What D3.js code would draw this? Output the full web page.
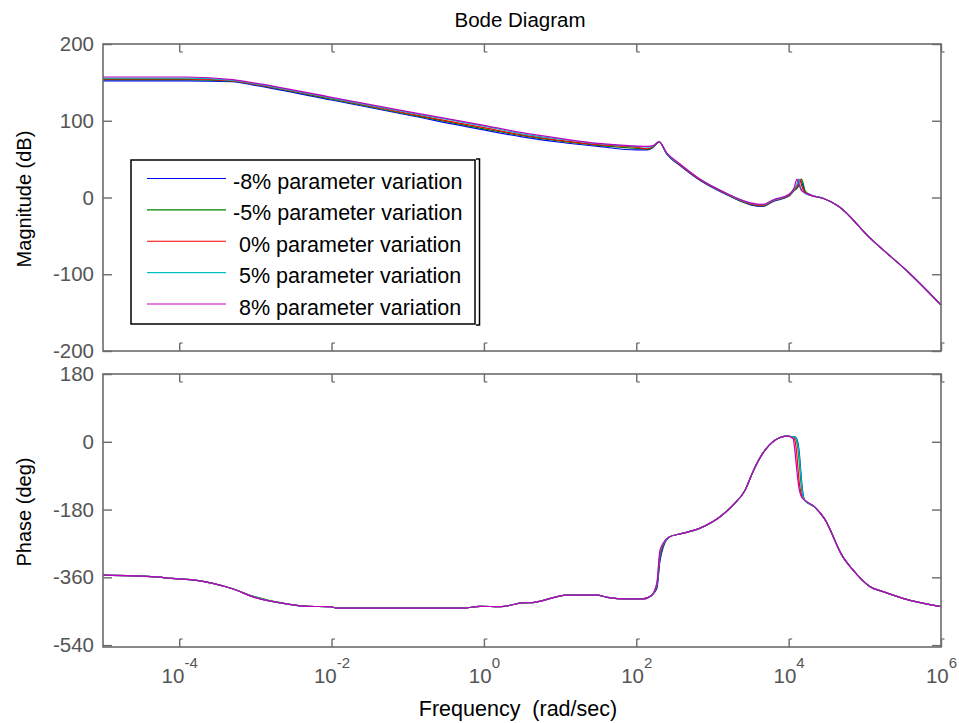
<!DOCTYPE html>
<html><head><meta charset="utf-8">
<script src="https://cdn.jsdelivr.net/npm/d3@7"></script>
<style>
html,body{margin:0;padding:0;background:#fff;}
svg{display:block;font-family:"Liberation Sans",Arial,sans-serif;}
</style></head><body>
<svg id="chart" width="959" height="723"></svg>
<script>
// ---------- DATA ----------
const seriesNames = ["-8% parameter variation", "-5% parameter variation", " 0% parameter variation", " 5% parameter variation", " 8% parameter variation"];
const seriesColors = ["#0000ff", "#008000", "#ff0000", "#00bfbf", "#bf00bf"];

// frequencies given as log10(rad/sec)
const magFreqExp = [-5, -3.9, -3.3, -3.0, -2.0, -1.0, 0, 0.5, 1.0, 1.5, 2.0, 2.15, 2.22, 2.30, 2.40, 2.57, 2.85, 3.15, 3.5, 3.66, 3.8, 4.0, 4.07, 4.11, 4.13, 4.15, 4.17, 4.22, 4.30, 4.45, 4.65, 5.07, 5.6, 6.0];
const magM8 = [152, 152, 151, 146, 127, 107.5, 88, 79, 72, 66.5, 62, 62, 65, 72.5, 56.5, 42, 21.5, 5.5, -9.5, -11.5, -5, 1.5, 9, 13, 17, 22, 20, 7, 3, -1, -11, -53, -100, -140];
const magM5 = [153.5, 153.5, 151.5, 147, 128, 108.5, 89.5, 80.5, 73.5, 68, 64, 63, 65.5, 72.5, 57, 42.5, 22, 6, -9, -11, -4.5, 2, 9, 12, 15, 20, 24, 8, 3, -1, -11, -53, -100, -140];
const mag0 = [154.5, 154.5, 152, 147.5, 129, 109.5, 91, 81.5, 74.5, 69, 65.5, 63.5, 66, 72.5, 57.5, 43, 22.5, 6.5, -8.5, -10.5, -4, 2.5, 10, 15, 19, 24, 16, 6, 2.5, -1, -11, -53, -100, -140];
const magP5 = [155.5, 155.5, 152.5, 148, 129.5, 111, 93, 83, 76, 70, 66.5, 65.5, 67, 72.5, 57.5, 43.5, 23, 7, -7.5, -9.5, -3.5, 3.5, 11, 18, 24, 16, 10, 5, 2.5, -1, -11, -53, -100, -140];
const magP8 = [157, 157, 153.5, 149, 130.5, 112, 94, 84.5, 77, 70.5, 67, 66.5, 67.5, 72.5, 58, 44, 23, 7, -7, -9, -3, 4, 12, 24, 18, 13, 9, 6, 2.5, -1, -11, -53, -100, -140];

const phaseFreqExp = [-5, -4.3, -4.1, -3.77, -3.56, -3.29, -3.03, -2.55, -2.32, -2.02, -1.92, -0.28, -0.05, 0.21, 0.51, 0.64, 1.09, 1.48, 1.62, 1.88, 2.09, 2.20, 2.27, 2.31, 2.35, 2.44, 2.57, 2.83, 3.10, 3.27, 3.43, 3.53, 3.66, 3.82, 3.98, 4.06, 4.08, 4.10, 4.12, 4.14, 4.16, 4.18, 4.21, 4.34, 4.47, 4.71, 4.83, 5.07, 5.24, 5.50, 6.0];
const phM8 = [-354, -359, -363, -368, -376, -391, -412, -432, -437, -438, -442, -442, -437, -438, -428, -427, -407, -407, -413, -417, -417, -408, -390, -318, -282, -252, -245, -230, -199, -168, -128, -80, -31, 4, 15, 13, 13, 10, 0, -30, -80, -125, -155, -173, -204, -305, -337, -385, -398, -416, -438];
const phM5 = [-354, -359, -363, -368, -376, -391, -410, -432, -437, -438, -442, -442, -437, -438, -428, -427, -407, -407, -413, -417, -417, -408, -385, -310, -278, -252, -245, -230, -199, -168, -128, -80, -31, 4, 15, 13, 12, 5, -15, -55, -105, -140, -155, -173, -204, -305, -337, -385, -398, -416, -438];
const ph0 = [-354, -359, -363, -368, -376, -391, -412, -432, -437, -438, -442, -442, -437, -438, -428, -427, -407, -407, -413, -417, -417, -408, -381, -301, -275, -252, -245, -230, -199, -168, -128, -80, -31, 4, 15, 12, 5, -20, -65, -108, -135, -147, -155, -173, -204, -305, -337, -385, -398, -416, -438];
const phP5 = [-354, -359, -363, -368, -376, -391, -411, -432, -437, -438, -442, -442, -437, -438, -428, -427, -407, -407, -413, -417, -417, -408, -378, -295, -272, -252, -245, -230, -199, -168, -128, -80, -31, 4, 15, 13, 13, 8, -5, -40, -90, -132, -155, -173, -204, -305, -337, -385, -398, -416, -438];
const phP8 = [-354, -359, -363, -368, -376, -391, -412, -432, -437, -438, -442, -442, -437, -438, -428, -427, -407, -407, -413, -417, -417, -408, -375, -290, -270, -252, -245, -230, -199, -168, -128, -80, -31, 4, 15, 8, -20, -60, -100, -128, -142, -150, -155, -173, -204, -305, -337, -385, -398, -416, -438];

const magSeries = [magM8, magM5, mag0, magP5, magP8];
const phaseSeries = [phM8, phM5, ph0, phP5, phP8];

const xTickExp = [-4, -2, 0, 2, 4, 6];
const magTicks = [-200, -100, 0, 100, 200];
const phaseTicks = [-540, -360, -180, 0, 180];

// ---------- CHART ----------
const svg = d3.select("#chart");
const L = 103, R = 941;
const magTop = 44, magBot = 351, phTop = 374, phBot = 647;
const x = d3.scaleLog().domain([1e-5, 1e6]).range([L, R]);
const yMag = d3.scaleLinear().domain([-200, 200]).range([magBot, magTop]);
const yPh = d3.scaleLinear().domain([-545, 180]).range([phBot, phTop]);

const axisColor = "#6b6b6b", labelColor = "#555";
const FONT = "Liberation Sans, Arial, sans-serif";

function drawPanel(y, top, bot, ticks, series, freqExp) {
  const line = d3.line().x(d => x(Math.pow(10, d[0]))).y(d => y(d[1])).curve(d3.curveMonotoneX);
  series.forEach((vals, i) => {
    const pts = freqExp.map((f, j) => [f, vals[j]]);
    svg.append("path").attr("d", line(pts)).attr("fill", "none")
      .attr("stroke", seriesColors[i]).attr("stroke-width", 1.2);
  });
  svg.append("rect").attr("x", L).attr("y", top).attr("width", R - L).attr("height", bot - top)
    .attr("fill", "none").attr("stroke", axisColor).attr("stroke-width", 1.6);
  const gl = svg.append("g").attr("transform", `translate(${L},0)`)
    .call(d3.axisLeft(y).tickValues(ticks).tickSizeInner(-9).tickSizeOuter(0).tickPadding(9)
      .tickFormat(d => String(d)));
  const gr = svg.append("g").attr("transform", `translate(${R},0)`)
    .call(d3.axisRight(y).tickValues(ticks).tickSizeInner(-9).tickSizeOuter(0).tickFormat(""));
  [gl, gr].forEach(g => {
    g.select(".domain").remove();
    g.selectAll(".tick line").attr("stroke", axisColor).attr("stroke-width", 1.4);
  });
  gl.selectAll(".tick text").attr("font-size", 20.5).attr("fill", labelColor).attr("font-family", FONT);
  const xt = xTickExp.map(e => Math.pow(10, e));
  const gb = svg.append("g").attr("transform", `translate(0,${bot})`)
    .call(d3.axisBottom(x).tickValues(xt).tickSizeInner(-8).tickSizeOuter(0).tickFormat(""));
  const gt = svg.append("g").attr("transform", `translate(0,${top})`)
    .call(d3.axisTop(x).tickValues(xt).tickSizeInner(-8).tickSizeOuter(0).tickFormat(""));
  [gb, gt].forEach(g => {
    g.select(".domain").remove();
    g.selectAll(".tick line").attr("stroke", axisColor).attr("stroke-width", 1.4);
  });
  gb.selectAll(".tick").append("line").attr("x1", 0).attr("x2", 3).attr("y1", -8).attr("y2", -8)
    .attr("stroke", axisColor).attr("stroke-width", 1.2);
  gt.selectAll(".tick").append("line").attr("x1", 0).attr("x2", 3).attr("y1", 8).attr("y2", 8)
    .attr("stroke", axisColor).attr("stroke-width", 1.2);
  return gb;
}

drawPanel(yMag, magTop, magBot, magTicks, magSeries, magFreqExp);
const gbPh = drawPanel(yPh, phTop, phBot, phaseTicks, phaseSeries, phaseFreqExp);

gbPh.selectAll(".tick").each(function(d) {
  const e = Math.round(Math.log10(d));
  const t = d3.select(this).append("text").attr("y", 36).attr("text-anchor", "middle")
    .attr("fill", labelColor).attr("font-size", 20.5).attr("font-family", FONT);
  t.append("tspan").text("10");
  t.append("tspan").attr("dy", -15).attr("font-size", 15).text(String(e));
});

svg.append("text").attr("x", 520).attr("y", 27).attr("text-anchor", "middle")
  .attr("font-size", 20.5).attr("fill", "#000").text("Bode Diagram");
svg.append("text").attr("x", 518).attr("y", 716).attr("text-anchor", "middle")
  .attr("font-size", 21.5).attr("fill", "#000").style("white-space", "pre")
  .text("Frequency  (rad/sec)");
svg.append("text").attr("transform", "translate(31,199) rotate(-90)").attr("text-anchor", "middle")
  .attr("font-size", 20).attr("fill", "#000").text("Magnitude (dB)");
svg.append("text").attr("transform", "translate(31,512) rotate(-90)").attr("text-anchor", "middle")
  .attr("font-size", 20).attr("fill", "#000").text("Phase (deg)");

const lg = svg.append("g");
lg.append("rect").attr("x", 131).attr("y", 160).attr("width", 344).attr("height", 164)
  .attr("fill", "#fff").attr("stroke", "#000").attr("stroke-width", 1.5);
lg.append("path").attr("d", "M476,159 H479.5 V325 H476").attr("fill", "none")
  .attr("stroke", "#000").attr("stroke-width", 1.5);
const rowY = d3.scalePoint().domain(d3.range(seriesNames.length)).range([178.5, 304]);
seriesNames.forEach((name, i) => {
  const yy = rowY(i);
  lg.append("line").attr("x1", 147).attr("x2", 226).attr("y1", yy).attr("y2", yy)
    .attr("stroke", seriesColors[i]).attr("stroke-width", 1.2);
  lg.append("text").attr("x", 233).attr("y", yy + 10.5).attr("font-size", 21.5)
    .attr("fill", "#000").style("white-space", "pre").attr("xml:space", "preserve").text(name);
});
</script>
</body></html>
